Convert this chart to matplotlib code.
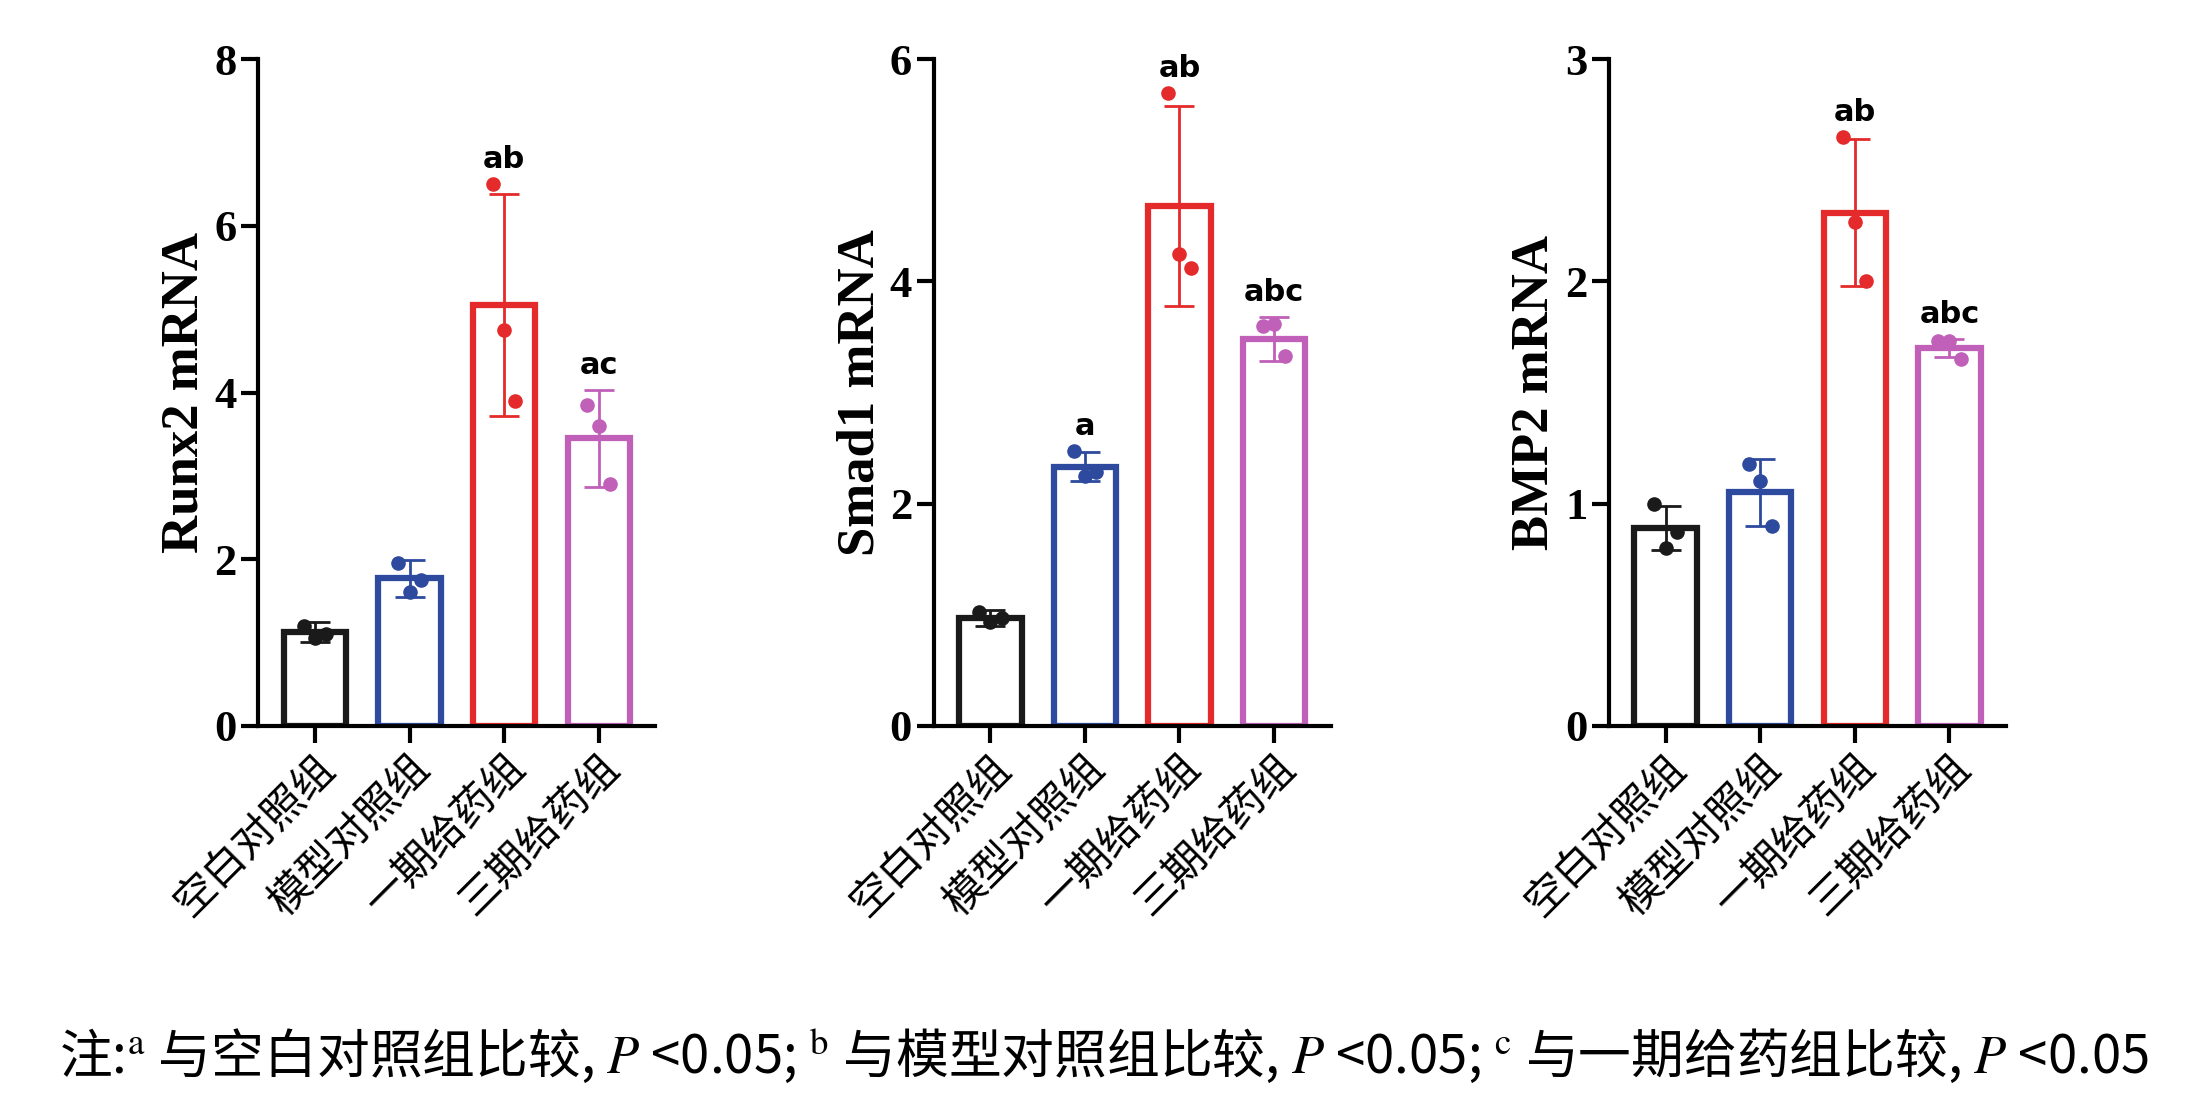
import matplotlib
matplotlib.use("Agg")
import matplotlib.pyplot as plt
import numpy as np

plt.rcParams['font.family'] = ['Noto Sans CJK SC', 'DejaVu Sans']
plt.rcParams['mathtext.fontset'] = 'stix'

groups = ['空白对照组', '模型对照组', '一期给药组', '三期给药组']
colors = ['#1a1a1a', '#2e4a9e', '#e42a2a', '#c060b8']

genes = ['Runx2 mRNA', 'Smad1 mRNA', 'BMP2 mRNA']
means = [[1.12, 1.77, 5.05, 3.45], [0.97, 2.33, 4.68, 3.48], [0.89, 1.05, 2.31, 1.70]]
errs = [[0.12, 0.22, 1.33, 0.58], [0.07, 0.13, 0.90, 0.20], [0.10, 0.15, 0.33, 0.04]]
points = [
    [[1.20, 1.05, 1.10], [1.95, 1.60, 1.75], [6.50, 4.75, 3.90], [3.85, 3.60, 2.90]],
    [[1.02, 0.93, 0.97], [2.47, 2.25, 2.28], [5.70, 4.25, 4.12], [3.60, 3.62, 3.33]],
    [[1.00, 0.80, 0.87], [1.18, 1.10, 0.90], [2.65, 2.27, 2.00], [1.73, 1.73, 1.65]],
]
letters = [['', '', 'ab', 'ac'], ['', 'a', 'ab', 'abc'], ['', '', 'ab', 'abc']]
ymax = [8, 6, 3]
ystep = [2, 2, 1]

fig = plt.figure(figsize=(22.07, 11.01), dpi=100)
lefts = [0.117, 0.423, 0.729]
for k in range(3):
    ax = fig.add_axes([lefts[k], 0.341, 0.18, 0.605])
    x = np.arange(4)
    for i in range(4):
        ax.bar(x[i], means[k][i], width=0.66, facecolor='white', edgecolor=colors[i], linewidth=4.5, zorder=2)
        ax.errorbar(x[i], means[k][i], yerr=errs[k][i], color=colors[i], capsize=11, capthick=2, elinewidth=2, zorder=3)
        off = [-0.12, 0.0, 0.12]
        ax.scatter(x[i] + np.array(off), points[k][i], s=90, color=colors[i], zorder=4)
        if letters[k][i]:
            top = max(means[k][i] + errs[k][i], max(points[k][i]))
            ax.text(x[i], top + ymax[k] * 0.015, letters[k][i], ha='center', va='bottom',
                    fontsize=22, fontweight='bold', family='DejaVu Sans')
    ax.set_xlim(-0.6, 3.6)
    ax.set_ylim(0, ymax[k])
    ax.set_yticks(np.arange(0, ymax[k] + 0.01, ystep[k]))
    ax.set_yticklabels([str(int(v)) for v in np.arange(0, ymax[k] + 0.01, ystep[k])],
                       family='Liberation Serif', fontweight='bold', fontsize=32)
    ax.set_xticks(x)
    ax.set_xticklabels(groups, rotation=45, ha='right', rotation_mode='anchor', fontsize=30)
    ax.set_ylabel(genes[k], family='Liberation Serif', fontweight='bold', fontsize=38)
    for s in ['top', 'right']:
        ax.spines[s].set_visible(False)
    for s in ['left', 'bottom']:
        ax.spines[s].set_linewidth(3)
    ax.tick_params(width=3, length=12)

fig.text(0.5, 0.04,
         '注:$^{\\mathrm{a}}$ 与空白对照组比较, $\\mathit{P}$ <0.05; $^{\\mathrm{b}}$ 与模型对照组比较, $\\mathit{P}$ <0.05; $^{\\mathrm{c}}$ 与一期给药组比较, $\\mathit{P}$ <0.05',
         ha='center', va='center', fontsize=38)
fig.savefig('out.png', dpi=100)
